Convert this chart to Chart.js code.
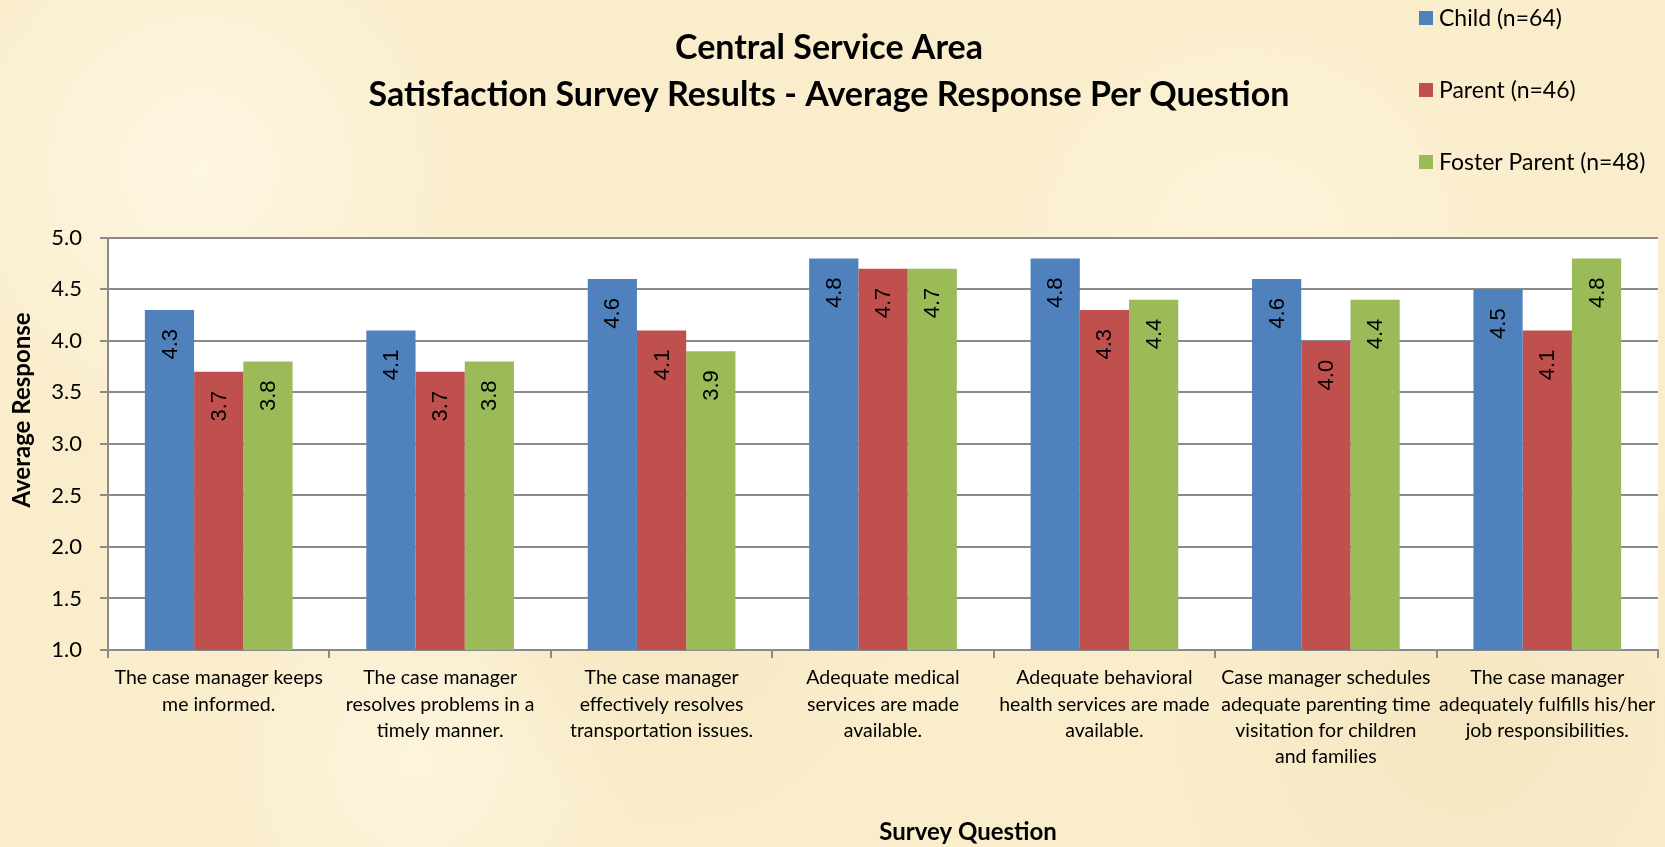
<!DOCTYPE html>
<html>
<head>
<meta charset="utf-8">
<script src="https://cdn.jsdelivr.net/npm/chart.js@4/dist/chart.umd.min.js"></script>
<style>
  html, body { margin: 0; padding: 0; }
  body {
    width: 1665px; height: 847px; overflow: hidden;
    background-color: #faedcc;
    background-image:
      radial-gradient(circle at 12% 20%, rgba(255,250,235,0.7), rgba(255,250,235,0) 18%),
      radial-gradient(circle at 40% 70%, rgba(240,224,180,0.45), rgba(240,224,180,0) 20%),
      radial-gradient(circle at 75% 30%, rgba(255,248,228,0.6), rgba(255,248,228,0) 22%),
      radial-gradient(circle at 88% 85%, rgba(238,222,178,0.45), rgba(238,222,178,0) 18%),
      radial-gradient(circle at 25% 90%, rgba(255,249,232,0.6), rgba(255,249,232,0) 15%);
  }
  #wrap { position: relative; width: 1665px; height: 847px; }
</style>
</head>
<body>
<div id="wrap"><canvas id="surveyChart" width="1665" height="847"></canvas></div>
<script>
// Survey questions (x-axis), split into lines like the original
const questions = [
    ['The case manager keeps', 'me informed.'],
    ['The case manager', 'resolves problems in a', 'timely manner.'],
    ['The case manager', 'effectively resolves', 'transportation issues.'],
    ['Adequate medical', 'services are made', 'available.'],
    ['Adequate behavioral', 'health services are made', 'available.'],
    ['Case manager schedules', 'adequate parenting time', 'visitation for children', 'and families'],
    ['The case manager', 'adequately fulfills his/her', 'job responsibilities.']
];

// Average response per group
const childScores = [4.3, 4.1, 4.6, 4.8, 4.8, 4.6, 4.5];
const parentScores = [3.7, 3.7, 4.1, 4.7, 4.3, 4.0, 4.1];
const fosterScores = [3.8, 3.8, 3.9, 4.7, 4.4, 4.4, 4.8];

const seriesNames = ['Child (n=64)', 'Parent (n=46)', 'Foster Parent (n=48)'];

// y axis range / ticks
const yMin = 1.0;
const yMax = 5.0;
const yStep = 0.5;

const labelFont = 'Lato, "Open Sans", sans-serif';

// white plot area, rotated value labels, legend and axis titles
const surveyDecor = {
    id: 'surveyDecor',
    beforeDraw(chart) {
        const { ctx, chartArea } = chart;
        ctx.save();
        ctx.fillStyle = '#ffffff';
        ctx.fillRect(chartArea.left, chartArea.top, chartArea.right - chartArea.left, chartArea.bottom - chartArea.top);
        ctx.restore();
    },
    afterDatasetsDraw(chart) {
        const ctx = chart.ctx;
        ctx.save();
        ctx.fillStyle = '#000000';
        ctx.font = '22px "Liberation Sans", Arial, sans-serif';
        ctx.textAlign = 'right';
        ctx.textBaseline = 'middle';
        chart.data.datasets.forEach((ds, i) => {
            chart.getDatasetMeta(i).data.forEach((bar, j) => {
                ctx.save();
                ctx.translate(bar.x, bar.y + 19);
                ctx.rotate(-Math.PI / 2);
                ctx.fillText(ds.data[j].toFixed(1), 0, 1);
                ctx.restore();
            });
        });
        ctx.restore();
    },
    afterDraw(chart) {
        const ctx = chart.ctx;
        ctx.save();
        // legend
        ctx.font = '23px ' + labelFont;
        ctx.textAlign = 'left';
        ctx.textBaseline = 'middle';
        chart.data.datasets.forEach((ds, i) => {
            const y = 18 + i * 72;
            ctx.fillStyle = ds.backgroundColor;
            ctx.fillRect(1419, y - 7, 14, 14);
            ctx.fillStyle = '#000000';
            ctx.fillText(ds.label, 1439, y + 1);
        });
        // axis titles
        ctx.font = 'bold 24px ' + labelFont;
        ctx.textAlign = 'center';
        ctx.save();
        ctx.translate(22, 410);
        ctx.rotate(-Math.PI / 2);
        ctx.fillText('Average Response', 0, 0);
        ctx.restore();
        ctx.fillText('Survey Question', 968, 832);
        ctx.restore();
    }
};

const ctx = document.getElementById('surveyChart').getContext('2d');
new Chart(ctx, {
    type: 'bar',
    data: {
        labels: questions,
        datasets: [{
            label: seriesNames[0],
            data: childScores,
            backgroundColor: '#4f81bd'
        }, {
            label: seriesNames[1],
            data: parentScores,
            backgroundColor: '#c0504d'
        }, {
            label: seriesNames[2],
            data: fosterScores,
            backgroundColor: '#9bbb59'
        }]
    },
    options: {
        responsive: false,
        animation: false,
        layout: {
            padding: { left: 0, right: 7, top: 0, bottom: 0 }
        },
        datasets: {
            bar: {
                categoryPercentage: 0.667,
                barPercentage: 1.0,
                borderWidth: 0
            }
        },
        plugins: {
            legend: { display: false },
            tooltip: { enabled: false },
            title: {
                display: true,
                text: ['Central Service Area', 'Satisfaction Survey Results - Average Response Per Question'],
                color: '#000000',
                font: { family: labelFont, size: 34, weight: 'bold', lineHeight: 1.38 },
                padding: { top: 25, bottom: 119 }
            }
        },
        scales: {
            x: {
                grid: {
                    offset: true,
                    drawOnChartArea: false,
                    drawTicks: true,
                    tickLength: 8,
                    color: '#8a8a8a',
                    lineWidth: 2
                },
                border: { color: '#8a8a8a', width: 2 },
                ticks: {
                    autoSkip: false,
                    maxRotation: 0,
                    minRotation: 0,
                    padding: 7,
                    color: '#000000',
                    font: { family: labelFont, size: 19.5, lineHeight: 1.35 }
                },
                afterFit(scale) { scale.height = 197; }
            },
            y: {
                min: yMin,
                max: yMax,
                grid: {
                    color: '#8a8a8a',
                    lineWidth: 2,
                    tickLength: 8
                },
                border: { color: '#8a8a8a', width: 2 },
                ticks: {
                    stepSize: yStep,
                    padding: 18,
                    color: '#000000',
                    font: { family: labelFont, size: 22 },
                    callback: v => v.toFixed(1)
                },
                afterFit(scale) { scale.width = 108; }
            }
        }
    },
    plugins: [surveyDecor]
});
</script>
</body>
</html>
